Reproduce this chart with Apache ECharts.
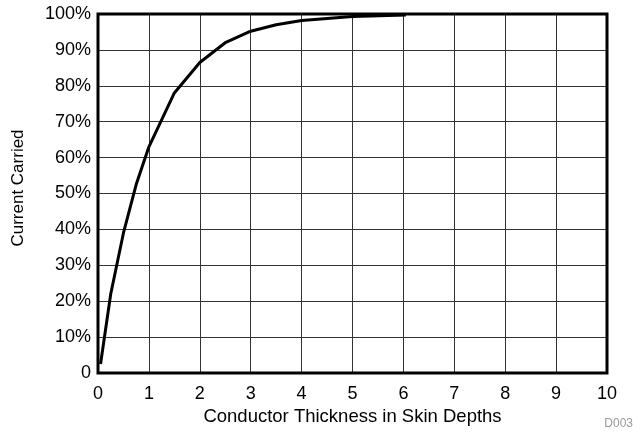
<!DOCTYPE html>
<html>
<head>
<meta charset="utf-8">
<script src="https://cdn.jsdelivr.net/npm/echarts@6/dist/echarts.min.js"></script>
<style>
  html, body { margin: 0; padding: 0; background: #fff; }
  #chart { width: 633px; height: 436px; }
</style>
</head>
<body>
<div id="chart"></div>
<script>
// skin depths vs fraction of current carried (%)
const thickness = [0.05, 0.25, 0.5, 0.75, 1, 1.5, 2, 2.5, 3, 3.5, 4, 5, 6.05]
const carried = [2.5, 22, 39, 52.5, 63, 78, 86.5, 92, 95.2, 97, 98.2, 99.3, 99.75]

const chart = echarts.init(document.getElementById('chart'))
const font = 'Liberation Sans, Arial, sans-serif'

chart.setOption({
  animation: false,
  grid: {
    left: 98,
    right: 26,
    top: 14,
    bottom: 63,
    show: true,
    borderColor: '#000',
    borderWidth: 3,
    z: 3
  },
  xAxis: {
    type: 'value',
    min: 0,
    max: 10,
    interval: 1,
    name: 'Conductor Thickness in Skin Depths',
    nameLocation: 'middle',
    nameGap: 33,
    nameTextStyle: { color: '#000', fontSize: 18.5, fontFamily: font },
    axisLine: { show: false },
    axisTick: { show: false },
    axisLabel: { color: '#000', fontSize: 18, fontFamily: font, margin: 12 },
    splitLine: { show: true, lineStyle: { color: '#333', width: 1 } }
  },
  yAxis: {
    type: 'value',
    min: 0,
    max: 100,
    interval: 10,
    axisLine: { show: false },
    axisTick: { show: false },
    axisLabel: {
      color: '#000', fontSize: 18, fontFamily: font, margin: 7,
      formatter: v => v === 0 ? '0' : v + '%'
    },
    splitLine: { show: true, lineStyle: { color: '#333', width: 1 } }
  },
  graphic: [{
    type: 'text',
    x: 18,
    y: 188,
    rotation: Math.PI / 2,
    style: {
      text: 'Current Carried', fill: '#000', fontSize: 17, fontFamily: font,
      align: 'center', verticalAlign: 'middle'
    }
  }, {
    type: 'text',
    right: 0,
    top: 418,
    style: { text: 'D003', fill: '#999', fontSize: 12, fontFamily: font }
  }],
  series: [{
    type: 'line',
    data: thickness.map((x, i) => [x, carried[i]]),
    showSymbol: false,
    lineStyle: { color: '#000', width: 3 },
    z: 4
  }]
})
</script>
</body>
</html>
